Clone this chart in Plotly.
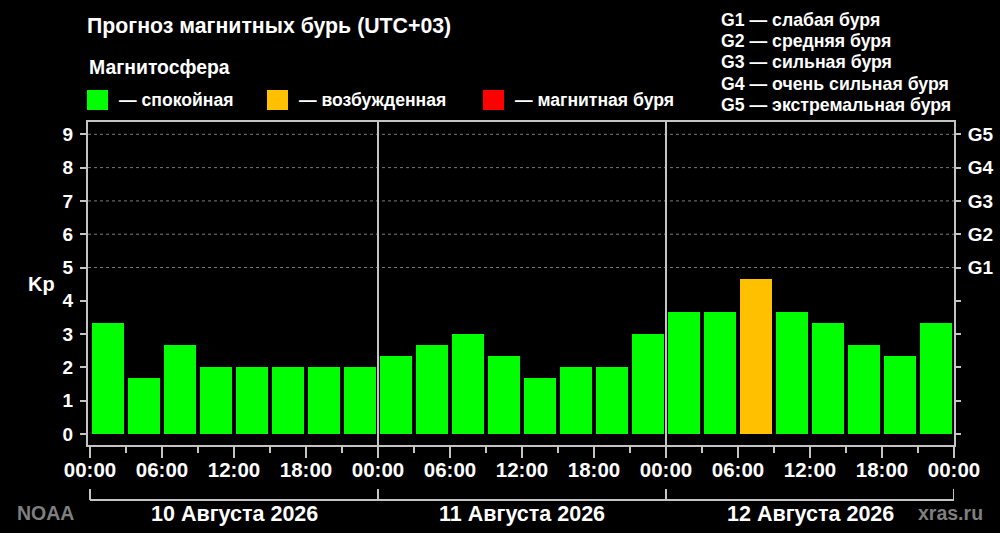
"""Magnetic storm forecast chart (Kp index, 3-hour intervals)."""

import plotly.graph_objects as go

# Kp forecast, 8 three-hour intervals per day
KP_VALUES = [
    3.33, 1.67, 2.67, 2.0, 2.0, 2.0, 2.0, 2.0,
    2.33, 2.67, 3.0, 2.33, 1.67, 2.0, 2.0, 3.0,
    3.67, 3.67, 4.67, 3.67, 3.33, 2.67, 2.33, 3.33,
]
DAY_LABELS = ["10 Августа 2026", "11 Августа 2026", "12 Августа 2026"]
HOUR_LABELS = ["00:00", "06:00", "12:00", "18:00"]
KP_TICKS = list(range(10))
G_LEVELS = [5, 6, 7, 8, 9]
G_LABELS = ["G1", "G2", "G3", "G4", "G5"]
G_DESCRIPTIONS = [
    "G1 — слабая буря",
    "G2 — средняя буря",
    "G3 — сильная буря",
    "G4 — очень сильная буря",
    "G5 — экстремальная буря",
]
STATE_NAMES = ["— спокойная", "— возбужденная", "— магнитная буря"]

GREEN = "#00ff00"
ORANGE = "#ffc000"
RED = "#ff0000"
FRAME = "#c4c4c4"
FONT = "Liberation Sans, Arial, sans-serif"

# plot area in pixels
L, R, T, B = 88, 954, 122, 445


def px_x(px):
    return (px - L) / (R - L)


def px_y(py):
    return (B - py) / (B - T)


def bar_color(kp):
    if kp >= 5:
        return RED
    if kp >= 4:
        return ORANGE
    return GREEN


n = len(KP_VALUES)
per_day = n // len(DAY_LABELS)
x_pos = [i + 0.5 for i in range(n)]

fig = go.Figure()

fig.add_trace(
    go.Bar(
        x=x_pos,
        y=KP_VALUES,
        width=0.89,
        marker=dict(color=[bar_color(v) for v in KP_VALUES], line=dict(width=0)),
        showlegend=False,
        hoverinfo="y",
    )
)

# dummy trace so the right-hand axis is drawn
fig.add_trace(go.Scatter(x=[None], y=[None], yaxis="y2", showlegend=False, hoverinfo="skip"))

# x ticks: labelled every 6 hours, minor every 3 hours
major_vals = list(range(0, n + 1, 2))
major_text = [HOUR_LABELS[(v // 2) % len(HOUR_LABELS)] for v in major_vals]
minor_vals = list(range(1, n, 2))

y_tick_font = dict(family=FONT, size=19, color="white", weight="bold")
x_tick_font = dict(family=FONT, size=20.5, color="white", weight="bold")

fig.update_layout(
    width=1000,
    height=533,
    autosize=False,
    paper_bgcolor="black",
    plot_bgcolor="black",
    margin=dict(l=L, r=1000 - R, t=T, b=533 - B, pad=0, autoexpand=False),
    bargap=0,
    title=dict(
        text="Прогноз магнитных бурь (UTC+03)",
        x=87 / 1000,
        xanchor="left",
        xref="container",
        y=1 - 26 / 533,
        yanchor="middle",
        yref="container",
        font=dict(family=FONT, size=21.3, color="white", weight="bold"),
    ),
    xaxis=dict(
        range=[-2 / 36, n],
        automargin=False,
        showgrid=False,
        zeroline=False,
        showline=True,
        linecolor=FRAME,
        linewidth=2,
        mirror=True,
        ticks="outside",
        ticklen=11,
        tickwidth=2,
        tickcolor=FRAME,
        tickvals=major_vals,
        ticktext=major_text,
        tickfont=x_tick_font,
        ticklabelstandoff=-6,
        minor=dict(tickvals=minor_vals, ticks="outside", ticklen=6, tickwidth=2, tickcolor=FRAME),
        fixedrange=True,
    ),
    yaxis=dict(
        range=[-0.33, 9.37],
        automargin=False,
        showgrid=False,
        zeroline=False,
        showline=True,
        linecolor=FRAME,
        linewidth=2,
        mirror=True,
        ticks="outside",
        ticklen=6,
        tickwidth=2,
        tickcolor=FRAME,
        tickvals=KP_TICKS,
        tickfont=y_tick_font,
        ticklabelstandoff=3,
        fixedrange=True,
    ),
    yaxis2=dict(
        range=[-0.33, 9.37],
        automargin=False,
        overlaying="y",
        side="right",
        showgrid=False,
        zeroline=False,
        showline=False,
        ticks="outside",
        ticklen=6,
        tickwidth=2,
        tickcolor=FRAME,
        tickvals=KP_TICKS,
        ticktext=["" if v not in G_LEVELS else G_LABELS[G_LEVELS.index(v)] for v in KP_TICKS],
        tickfont=y_tick_font,
        ticklabelstandoff=3,
        fixedrange=True,
    ),
)

# dotted grid lines for storm levels
for level in G_LEVELS:
    fig.add_shape(
        type="line", xref="paper", yref="y", x0=0, x1=1, y0=level, y1=level,
        line=dict(color="#7a7a7a", width=1, dash="3px,3px"), layer="below",
    )

# day separators
for d in range(1, len(DAY_LABELS)):
    fig.add_shape(
        type="line", xref="x", yref="paper", x0=d * per_day, x1=d * per_day, y0=0, y1=1,
        line=dict(color=FRAME, width=2),
    )

# day bracket under the time axis
fig.add_shape(
    type="line", xref="x", yref="paper", x0=0, x1=n, y0=px_y(500), y1=px_y(500),
    line=dict(color=FRAME, width=2),
)
for d in range(len(DAY_LABELS) + 1):
    fig.add_shape(
        type="line", xref="x", yref="paper", x0=d * per_day, x1=d * per_day,
        y0=px_y(489), y1=px_y(500), line=dict(color=FRAME, width=2),
    )
for d, label in enumerate(DAY_LABELS):
    fig.add_annotation(
        x=d * per_day + per_day / 2, y=px_y(514), xref="x", yref="paper",
        text=label, showarrow=False, xanchor="center", yanchor="middle",
        font=dict(family=FONT, size=21.5, color="white", weight="bold"),
    )

# credits
for text, px in [("NOAA", 45), ("xras.ru", 950)]:
    fig.add_annotation(
        x=px_x(px), y=px_y(513), xref="paper", yref="paper",
        text=text, showarrow=False, xanchor="center", yanchor="middle",
        font=dict(family=FONT, size=19.5, color="#7f7f7f", weight="bold"),
    )

# Kp axis label
fig.add_annotation(
    x=px_x(41), y=px_y(284), xref="paper", yref="paper",
    text="Kp", showarrow=False, xanchor="center", yanchor="middle",
    font=dict(family=FONT, size=20, color="white", weight="bold"),
)

# magnetosphere state legend
fig.add_annotation(
    x=px_x(87), y=px_y(67), xref="paper", yref="paper",
    text="Магнитосфера", showarrow=False, xanchor="left", yanchor="middle",
    font=dict(family=FONT, size=19.4, color="white", weight="bold"),
)
for color, name, px in zip([GREEN, ORANGE, RED], STATE_NAMES, [87, 267, 483]):
    fig.add_shape(
        type="rect", xref="paper", yref="paper",
        x0=px_x(px), x1=px_x(px + 21), y0=px_y(110), y1=px_y(90),
        fillcolor=color, line=dict(width=0),
    )
    fig.add_annotation(
        x=px_x(px + 30), y=px_y(100), xref="paper", yref="paper",
        text=name, showarrow=False, xanchor="left", yanchor="middle",
        font=dict(family=FONT, size=17.6, color="white", weight="bold"),
    )

# storm level descriptions
for i, desc in enumerate(G_DESCRIPTIONS):
    fig.add_annotation(
        x=px_x(719), y=px_y(20 + i * 21.2), xref="paper", yref="paper",
        text=desc, showarrow=False, xanchor="left", yanchor="middle",
        font=dict(family=FONT, size=17.7, color="white", weight="bold"),
    )

# page body margin would shift the chart by 8px
fig.write_html(
    "out.html",
    config={"displayModeBar": False},
    post_script="document.body.style.margin='0';document.body.style.overflow='hidden';",
)
